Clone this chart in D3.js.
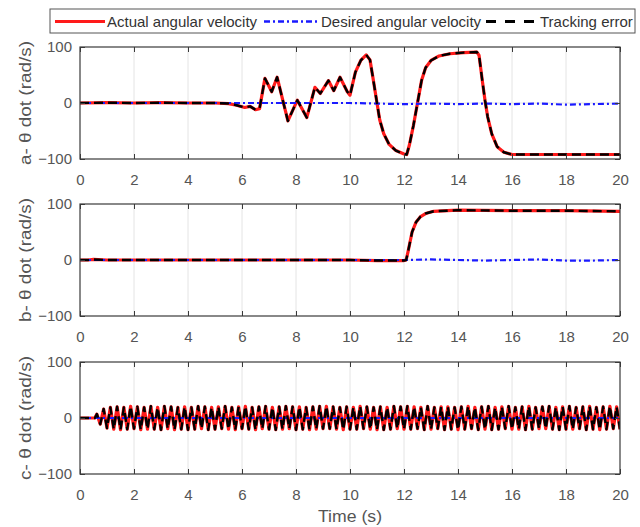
<!DOCTYPE html>
<html>
<head>
<meta charset="utf-8">
<script src="https://cdn.jsdelivr.net/npm/d3@7"></script>
<style>
  html, body { margin: 0; padding: 0; background: #fff; }
  svg { display: block; font-family: "Liberation Sans", Arial, sans-serif; }
</style>
</head>
<body>
<svg id="chart" width="640" height="527"></svg>
<script>
// ---------- data ----------
const xTicks = [0, 2, 4, 6, 8, 10, 12, 14, 16, 18, 20];
const yTicks = [-100, 0, 100];
const seriesNames = ["Actual angular velocity", "Desired angular velocity", "Tracking error"];
const panelLetters = ["a-", "b-", "c-"];
const xLabel = "Time (s)";

// panel a
const timesA = [0,1,2,3,4,5,5.5,5.8,6.1,6.3,6.5,6.65,6.85,7.1,7.3,7.7,8.05,8.4,8.7,8.9,9.2,9.4,9.63,9.9,10.0,10.2,10.4,10.6,10.74,10.85,11.0,11.1,11.25,11.45,11.7,12.0,12.1,12.2,12.35,12.5,12.65,12.8,13.0,13.3,13.7,14.2,14.7,14.78,14.9,15.0,15.1,15.25,15.45,15.7,16.0,17,18,19,20];
const actualA = [0,0.5,0,0.5,0,0,-1,-4,-8,-6,-12,-10,44,20,46,-32,5,-26,28,17,40,22,46,20,14,55,76,86,77,45,0,-30,-55,-74,-85,-91,-92,-75,-40,0,40,63,76,84,88,90,91,85,40,5,-25,-55,-78,-88,-92,-92,-92,-92,-92];
const errorA = [0,0.5,0,0.5,0,0,-1,-4,-8,-6,-12,-10,44,20,46,-32,5,-26,28,17,40,22,46,20,14,55,76,86,77,45,0,-30,-55,-74,-85,-91,-92,-75,-40,0,40,63,76,84,88,90,91,85,40,5,-25,-55,-78,-88,-92,-92,-92,-92,-92];
const timesDA = [0,2,4,6,8,10,11,12,13,14,15,16,17,18,19,20];
const desiredA = [0,0,0,0,0,0,-1,-2,-1,-2,-1,-2,-1,-3,-2,-1];

// panel b
const timesB = [0,0.3,0.5,1,2,4,6,8,10,11,12,12.08,12.15,12.3,12.45,12.6,12.8,13.1,13.6,14,16,18,20];
const actualB = [0,0,1,0,0,0,0,0,0,-1,-1,0,15,50,68,77,83,87,88,89,88,88,87];
const errorB = [0,0,1,0,0,0,0,0,0,-1,-1,0,15,50,68,77,83,87,88,89,88,88,87];
const timesDB = [0,2,4,6,8,10,12,13,14,15,16,17,18,19,20];
const desiredB = [0,0,0,0,0,0,0,1,0,-1,0,1,-1,-1,0];

// panel c
const timesC = [0,0.55,0.625,0.75,0.875,1,
 1.125,1.25,1.375,1.5,1.625,1.75,1.875,2,
 2.125,2.25,2.375,2.5,2.625,2.75,2.875,3,
 3.125,3.25,3.375,3.5,3.625,3.75,3.875,4,
 4.125,4.25,4.375,4.5,4.625,4.75,4.875,5,
 5.125,5.25,5.375,5.5,5.625,5.75,5.875,6,
 6.125,6.25,6.375,6.5,6.625,6.75,6.875,7,
 7.125,7.25,7.375,7.5,7.625,7.75,7.875,8,
 8.125,8.25,8.375,8.5,8.625,8.75,8.875,9,
 9.125,9.25,9.375,9.5,9.625,9.75,9.875,10,
 10.125,10.25,10.375,10.5,10.625,10.75,10.875,11,
 11.125,11.25,11.375,11.5,11.625,11.75,11.875,12,
 12.125,12.25,12.375,12.5,12.625,12.75,12.875,13,
 13.125,13.25,13.375,13.5,13.625,13.75,13.875,14,
 14.125,14.25,14.375,14.5,14.625,14.75,14.875,15,
 15.125,15.25,15.375,15.5,15.625,15.75,15.875,16,
 16.125,16.25,16.375,16.5,16.625,16.75,16.875,17,
 17.125,17.25,17.375,17.5,17.625,17.75,17.875,18,
 18.125,18.25,18.375,18.5,18.625,18.75,18.875,19,
 19.125,19.25,19.375,19.5,19.625,19.75,19.875,20];
const actualC = [0,0,7,-11,16,-18,
 19,-20,20,-21,19,-20,21,-19,
 20,-21,19,-20,21,-20,19,-21,
 21,-19,20,-21,19,-20,20,-21,
 19,-20,21,-19,20,-21,19,-20,
 20,-19,21,-20,19,-21,20,-19,
 21,-20,19,-21,20,-19,21,-20,
 19,-21,20,-20,21,-19,20,-21,
 20,-20,19,-21,20,-20,21,-19,
 21,-19,20,-20,19,-21,20,-20,
 19,-20,21,-19,20,-20,19,-21,
 20,-21,19,-20,21,-19,20,-20,
 21,-20,20,-19,19,-21,21,-20,
 19,-19,20,-21,20,-20,19,-21,
 20,-20,21,-19,19,-21,20,-20,
 21,-21,19,-20,20,-19,21,-20,
 19,-20,20,-21,21,-20,19,-19,
 20,-19,21,-20,19,-21,20,-20,
 21,-20,19,-19,20,-21,21,-20,
 19,-21,20,-20,21,-19,20,-20];
const errorC = actualC.slice();
const timesDC = [0,5,10,15,20];
const desiredC = [0,0,0,0,0];

const panels = [
  { letter: panelLetters[0], t: timesA, actual: actualA, error: errorA, td: timesDA, desired: desiredA },
  { letter: panelLetters[1], t: timesB, actual: actualB, error: errorB, td: timesDB, desired: desiredB },
  { letter: panelLetters[2], t: timesC, actual: actualC, error: errorC, td: timesDC, desired: desiredC }
];

// ---------- layout ----------
const left = 80, right = 620, panelH = 112;
const tops = [47, 204, 362];
const svg = d3.select("#chart");
svg.append("rect").attr("width", 640).attr("height", 527).attr("fill", "#fff");

const x = d3.scaleLinear().domain([0, 20]).range([left, right]);
const RED = "#ff1a1a", BLUE = "#1a1aff", BLACK = "#000";

panels.forEach((p, i) => {
  const top = tops[i], bottom = top + panelH;
  const y = d3.scaleLinear().domain([-100, 100]).range([bottom, top]);
  const g = svg.append("g");

  // grid
  g.append("g").selectAll("line").data(xTicks.slice(1, -1)).join("line")
    .attr("x1", d => x(d)).attr("x2", d => x(d)).attr("y1", top).attr("y2", bottom)
    .attr("stroke", "#e4e4e4").attr("stroke-width", 1);
  g.append("line").attr("x1", left).attr("x2", right).attr("y1", y(0)).attr("y2", y(0))
    .attr("stroke", "#e4e4e4");

  // clip
  const cid = "clip" + i;
  svg.append("clipPath").attr("id", cid).append("rect")
    .attr("x", left).attr("y", top - 2).attr("width", right - left).attr("height", panelH + 4);

  const lineT = d3.line().x(d => x(d[0])).y(d => y(d[1]));
  const data = g.append("g").attr("clip-path", `url(#${cid})`);

  data.append("path").datum(p.t.map((t, k) => [t, p.actual[k]]))
    .attr("d", lineT).attr("fill", "none").attr("stroke", RED).attr("stroke-width", 3.2)
    .attr("stroke-linejoin", "round");
  data.append("path").datum(p.td.map((t, k) => [t, p.desired[k]]))
    .attr("d", lineT).attr("fill", "none").attr("stroke", BLUE).attr("stroke-width", 2.2)
    .attr("stroke-dasharray", "6,3,2,3");
  data.append("path").datum(p.t.map((t, k) => [t, p.error[k]]))
    .attr("d", lineT).attr("fill", "none").attr("stroke", BLACK).attr("stroke-width", 2.4)
    .attr("stroke-dasharray", "9,5").attr("stroke-linejoin", "round");

  // axes
  const tickCol = "#3a3a3a";
  const ax = (gen, tr) => {
    const a = g.append("g").attr("transform", tr).call(gen);
    a.select(".domain").remove();
    a.selectAll(".tick line").attr("stroke", tickCol);
    a.selectAll("text").attr("fill", "#555").style("font-size", "15px")
      .style("font-family", '"Liberation Sans", Arial, sans-serif');
    return a;
  };
  ax(d3.axisBottom(x).tickValues(xTicks).tickSize(-5).tickPadding(15), `translate(0,${bottom})`);
  ax(d3.axisTop(x).tickValues(xTicks).tickSize(-5).tickFormat(""), `translate(0,${top})`);
  ax(d3.axisLeft(y).tickValues(yTicks).tickSize(-5).tickPadding(8), `translate(${left},0)`);
  ax(d3.axisRight(y).tickValues(yTicks).tickSize(-5).tickFormat(""), `translate(${right},0)`);

  // box
  g.append("rect").attr("x", left).attr("y", top).attr("width", right - left).attr("height", panelH)
    .attr("fill", "none").attr("stroke", "#3a3a3a").attr("stroke-width", 1.2);

  // y label
  const cy = (top + bottom) / 2;
  g.append("text").attr("transform", `translate(31,${cy}) rotate(-90)`)
    .attr("text-anchor", "middle").attr("fill", "#555").style("font-size", "16px")
    .attr("textLength", 124).attr("lengthAdjust", "spacingAndGlyphs")
    .text(`${p.letter} θ dot (rad/s)`);
});

// x label
svg.append("text").attr("x", 350).attr("y", 522).attr("text-anchor", "middle")
  .attr("fill", "#555").style("font-size", "16px")
  .attr("textLength", 64).attr("lengthAdjust", "spacingAndGlyphs").text(xLabel);

// legend
const lg = svg.append("g");
lg.append("rect").attr("x", 50).attr("y", 9).attr("width", 585).attr("height", 24)
  .attr("fill", "#fff").attr("stroke", "#555").attr("stroke-width", 1);
const items = [
  { x1: 55, x2: 105, tx: 107, color: RED, w: 3, dash: null },
  { x1: 264, x2: 318, tx: 321, color: BLUE, w: 2.5, dash: "6,3,2,3" },
  { x1: 486, x2: 538, tx: 540, color: BLACK, w: 3, dash: "10,9" }
];
items.forEach((it, k) => {
  lg.append("line").attr("x1", it.x1).attr("x2", it.x2).attr("y1", 21.5).attr("y2", 21.5)
    .attr("stroke", it.color).attr("stroke-width", it.w)
    .attr("stroke-dasharray", it.dash);
  lg.append("text").attr("x", it.tx).attr("y", 27).attr("fill", "#333")
    .style("font-size", "15px").text(seriesNames[k]);
});
</script>
</body>
</html>
